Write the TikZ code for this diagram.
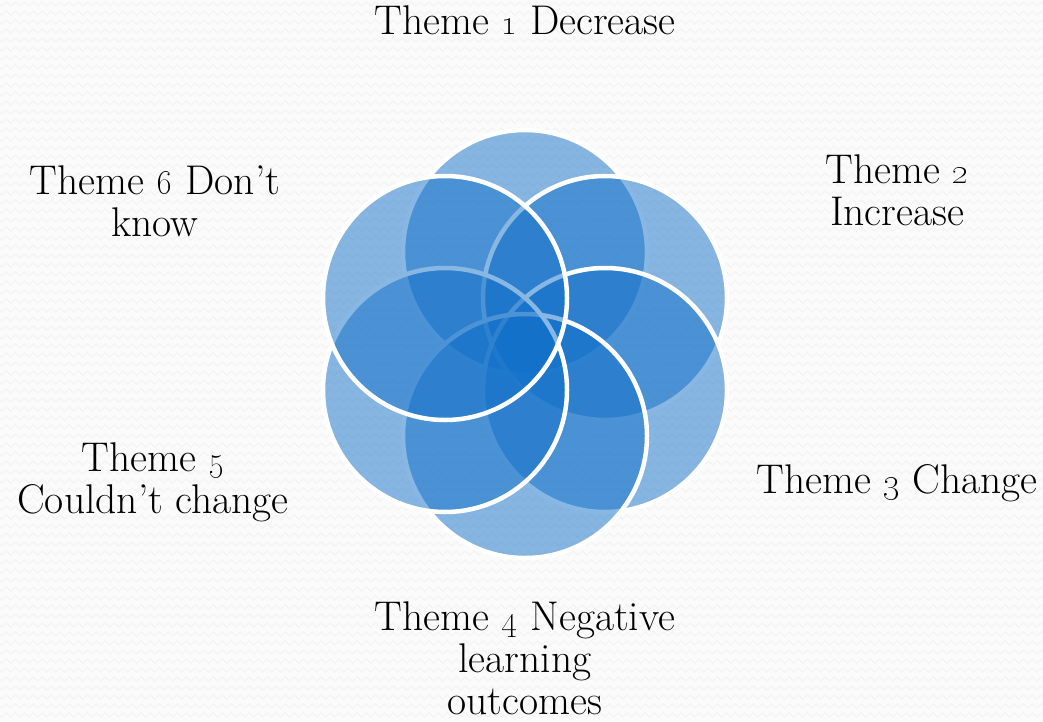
\documentclass[tikz,border=0pt]{standalone}
\usetikzlibrary{decorations.pathmorphing}
\definecolor{bgcol}{RGB}{251,251,251}
\definecolor{bgline}{RGB}{244,244,244}
\definecolor{petalblue}{RGB}{18,112,202}
\tikzset{
  petal/.style={circle, minimum size=244pt, inner sep=0pt, outer sep=0pt,
    fill=petalblue, fill opacity=0.5, draw=white, draw opacity=1, line width=4.5pt},
  label/.style={align=center, inner sep=0pt, anchor=base, text=black,
    font=\fontsize{41.5}{42}\selectfont},
  zz/.style={draw=bgline, line width=1.2pt, decorate,
    decoration={zigzag, segment length=9pt, amplitude=2pt}}
}
\begin{document}
\begin{tikzpicture}[x=1pt, y=-1pt]
\useasboundingbox (0,0) rectangle (1043,722);
\fill[bgcol] (0,0) rectangle (1043,722);
\foreach \yy in {4,13,...,722} { \draw[zz] (-5,\yy) -- (1048,\yy); }
% petals, in drawing order
\node[petal] (c1) at (525,252) {};
\node[petal] (c2) at (605,298) {};
\node[petal] (c3) at (605,390) {};
\node[petal] (c4) at (525,436) {};
\node[petal] (c5) at (445,390) {};
\node[petal] (c6) at (445,298) {};
% labels (base = baseline of the last line)
\node[label] (t1) at (525,35) {Theme \oldstylenums{1} Decrease};
\node[label] (t2) at (897,225) {Theme \oldstylenums{2}\\Increase};
\node[label] (t3) at (897,493) {Theme \oldstylenums{3} Change};
\node[label] (t4) at (525,714) {Theme \oldstylenums{4} Negative\\learning\\outcomes};
\node[label] (t5) at (153,513) {Theme \oldstylenums{5}\\Couldn’t change};
\node[label] (t6) at (155,236) {Theme \oldstylenums{6} Don’t\\know};
\end{tikzpicture}
\end{document}
